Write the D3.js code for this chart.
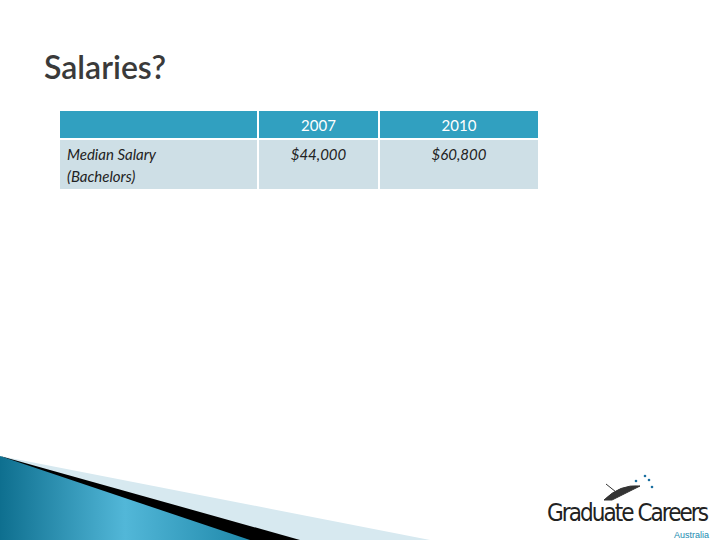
<!DOCTYPE html>
<html><head><meta charset="utf-8">
<script src="https://cdn.jsdelivr.net/npm/d3@7"></script>
<style>body{margin:0;background:#fff}</style></head>
<body><svg id="c" width="720" height="540"></svg>
<script>
const title = "Salaries?";
const columns = ["", "2007", "2010"];
const rowLabels = ["Median Salary\n(Bachelors)"];
const values2007 = ["$44,000"];
const values2010 = ["$60,800"];

const svg = d3.select("#c");
const font = "Lato, 'Open Sans', sans-serif";

const defs = svg.append("defs");
const g1 = defs.append("linearGradient").attr("id","bg").attr("x1","0").attr("y1","0").attr("x2","1").attr("y2","0");
g1.append("stop").attr("offset","0").attr("stop-color","#0e6f8f");
g1.append("stop").attr("offset","0.5").attr("stop-color","#52b7d8");
g1.append("stop").attr("offset","1").attr("stop-color","#1f88aa");
svg.append("path").attr("d","M0,456 L430,540 L160,540 Z").attr("fill","#d7e9f0");
svg.append("path").attr("d","M0,456 L300,540 L200,540 Z").attr("fill","#000");
svg.append("path").attr("d","M0,456 L250,540 L0,540 Z").attr("fill","url(#bg)");

svg.append("text").attr("x",44).attr("y",79).attr("font-family",font)
  .attr("font-size",32).attr("font-weight",600).attr("fill","#3a3a3a").text(title);

const x = d3.scaleOrdinal().domain([0,1,2]).range([60,259,380]);
const w = [197,119,158];
const hdrY = 111, hdrH = 27, rowY = 140, rowH = 49;
columns.forEach((c,i)=>{
  svg.append("rect").attr("x",x(i)).attr("y",hdrY).attr("width",w[i]).attr("height",hdrH).attr("fill","#31a0c0");
  svg.append("text").attr("x",x(i)+w[i]/2).attr("y",hdrY+20).attr("text-anchor","middle")
    .attr("font-family",font).attr("font-size",15).attr("fill","#fff").text(c);
});
rowLabels.forEach((lab,r)=>{
  const y = rowY + r*(rowH+2);
  const cells=[lab, values2007[r], values2010[r]];
  cells.forEach((v,i)=>{
    svg.append("rect").attr("x",x(i)).attr("y",y).attr("width",w[i]).attr("height",rowH).attr("fill","#cedfe6");
    const t = svg.append("text").attr("font-family",font).attr("font-size",15).attr("font-style","italic").attr("fill","#222")
      .attr("text-anchor", i===0?"start":"middle");
    v.split("\n").forEach((line,k)=>{
      t.append("tspan").attr("x", i===0? x(i)+7 : x(i)+w[i]/2).attr("y", y+20+k*22).text(line);
    });
  });
});

svg.append("text").attr("x",709).attr("y",521).attr("text-anchor","end").attr("font-family","'Liberation Sans Narrow','DejaVu Sans Condensed',sans-serif")
  .attr("font-size",24).attr("fill","#222").attr("textLength",162).text("Graduate Careers");
svg.append("text").attr("x",709).attr("y",538).attr("text-anchor","end").attr("font-family","'Liberation Sans Narrow',sans-serif")
  .attr("font-size",9).attr("fill","#1a8ab0").text("Australia");
svg.append("path").attr("d","M604,500 Q620,484 640,486 Q628,492 612,500 Z M616,492 L606,484").attr("fill","#333").attr("stroke","#333");
[[636,481],[645,476],[652,487],[649,480]].forEach(p=>svg.append("circle").attr("cx",p[0]).attr("cy",p[1]).attr("r",1.3).attr("fill","#1a6fa0"));
</script></body></html>
